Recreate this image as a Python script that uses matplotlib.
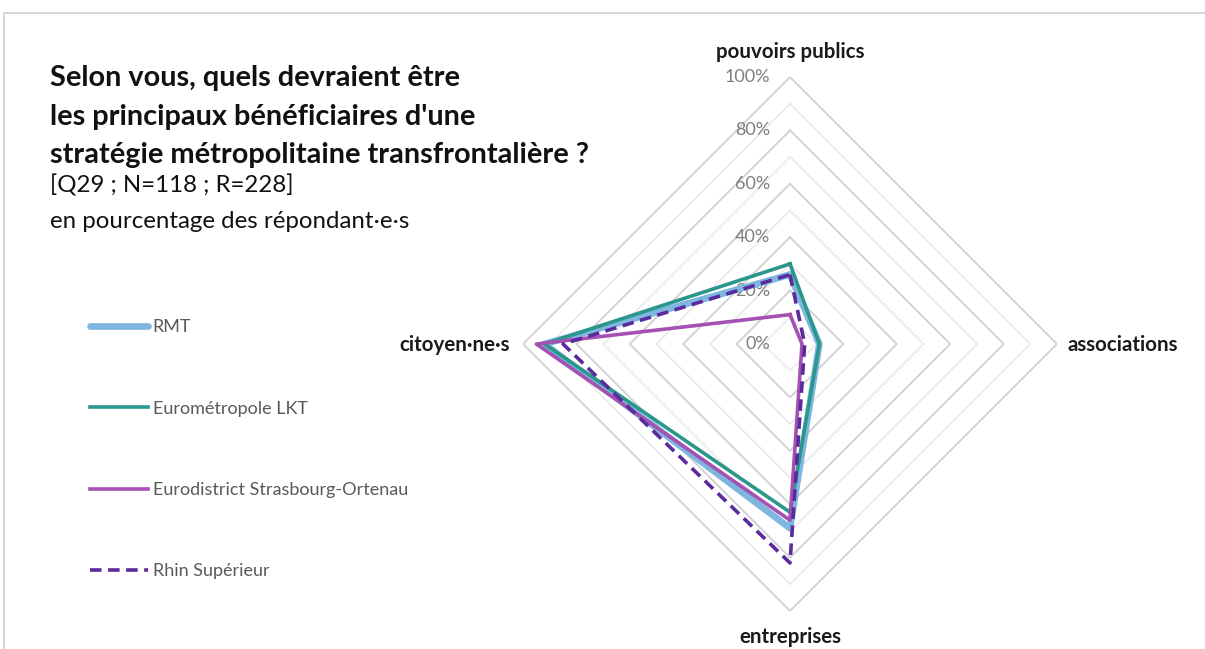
import numpy as np
import matplotlib.pyplot as plt
from matplotlib.lines import Line2D
from matplotlib.patches import Rectangle
import matplotlib.transforms as mtransforms

plt.rcParams['font.family'] = ['Lato', 'DejaVu Sans']

categories = ['pouvoirs publics', 'associations', 'entreprises', 'citoyen·ne·s']

# share of respondents per beneficiary (0-1)
rmt = [0.26, 0.11, 0.69, 0.92]
eurometropole = [0.30, 0.11, 0.63, 0.92]
eurodistrict = [0.11, 0.045, 0.66, 0.95]
rhin = [0.26, 0.055, 0.82, 0.85]

series = [
    ('RMT', rmt, dict(color='#7db6de', lw=4.8, solid_capstyle='round')),
    ('Eurométropole LKT', eurometropole, dict(color='#2b978a', lw=2.6)),
    ('Eurodistrict Strasbourg-Ortenau', eurodistrict, dict(color='#a551b3', lw=2.6)),
    ('Rhin Supérieur', rhin, dict(color='#5b2a9c', lw=2.6, ls=(0, (3.2, 1.8)))),
]

W, H = 1205, 649
fig = plt.figure(figsize=(W / 100, H / 100), dpi=100)

# light frame around the chart area
fig.patches.append(Rectangle((4 / W, -0.1), 1.2, 1 - 13 / H + 0.1,
                             transform=fig.transFigure, fill=False,
                             edgecolor='#d4d4d4', lw=1.3))

cx, cy, rad = 790, 344, 267
ax = fig.add_axes([(cx - rad) / W, 1 - (cy + rad) / H, 2 * rad / W, 2 * rad / H],
                  projection='polar')
ax.set_theta_offset(np.pi / 2)
ax.set_theta_direction(-1)
ax.set_ylim(0, 1.0)
ax.grid(False)
ax.spines['polar'].set_visible(False)
ax.set_xticks([])
ax.set_yticks([])
ax.patch.set_alpha(0)

angles = np.linspace(0, 2 * np.pi, len(categories), endpoint=False)
closed = np.append(angles, angles[0])

# diamond-shaped gridlines, darker every 20%
for i in range(1, 11):
    r = i / 10
    col = '#d0d0d0' if i % 2 == 0 else '#ebebeb'
    ax.plot(closed, [r] * len(closed), color=col, lw=1.3, zorder=1)

lbl_tr = mtransforms.offset_copy(ax.transData, fig=fig, x=-20, y=0, units='dots')
for i in range(0, 11, 2):
    ax.text(0, i / 10, f'{i * 10}%', transform=lbl_tr, ha='right', va='center',
            fontsize=13, color='#7f7f7f')

for name, vals, style in series:
    ax.plot(closed, vals + vals[:1], label=name, zorder=3, **style)

# category labels
lab_kw = dict(ha='center', va='center', fontsize=14.8, fontweight='bold',
              color='#1a1a1a')
fig.text(cx / W, 1 - 52 / H, categories[0], **lab_kw)
fig.text(1123 / W, 1 - 345 / H, categories[1], **lab_kw)
fig.text(cx / W, 1 - 637 / H, categories[2], **lab_kw)
fig.text(455 / W, 1 - 345 / H, categories[3], **lab_kw)

# title block
title_lines = ['Selon vous, quels devraient être',
               "les principaux bénéficiaires d'une",
               'stratégie métropolitaine transfrontalière ?']
for k, line in enumerate(title_lines):
    fig.text(50 / W, 1 - (78 + 38.5 * k) / H, line, ha='left', va='center',
             fontsize=20.8, fontweight='bold', color='#111111')
fig.text(50 / W, 1 - 185 / H, '[Q29 ; N=118 ; R=228]', ha='left', va='center',
         fontsize=17.3, color='#111111')
fig.text(50 / W, 1 - 221 / H, 'en pourcentage des répondant·e·s', ha='left',
         va='center', fontsize=17.3, color='#111111')

# legend
handles = [Line2D([], [], **style) for _, _, style in series]
labels = [name for name, _, _ in series]
leg = fig.legend(handles, labels, loc='upper left',
                 bbox_to_anchor=(74 / W, 1 - 303 / H), frameon=False,
                 fontsize=13, labelcolor='#595959', handlelength=3.2,
                 handletextpad=0.25, labelspacing=3.62)

fig.savefig('out.png', dpi=100)
